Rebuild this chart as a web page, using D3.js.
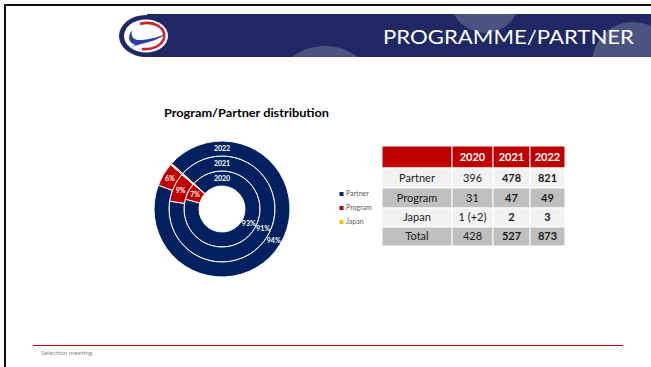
<!DOCTYPE html>
<html>
<head>
<meta charset="utf-8">
<script src="https://cdn.jsdelivr.net/npm/d3@7"></script>
<style>
  body { margin: 0; background: #fff; }
  svg { display: block; }
</style>
</head>
<body>
<svg id="slide" width="651" height="367"></svg>
<script>
// ---- data ----
const years = ["2020", "2021", "2022"];
const categories = ["Partner", "Program", "Japan"];
const partner = [396, 478, 821];
const program = [31, 47, 49];
const japan = [1, 2, 3];
const japanText = ["1 (+2)", "2", "3"];
const totals = [428, 527, 873];
const colors = ["#002060", "#c00000", "#ffc000"];

const svg = d3.select("#slide");
const font = "Lato, 'Open Sans', sans-serif";

// ---- slide frame ----
svg.append("rect").attr("x", 4).attr("y", 4).attr("width", 647).attr("height", 2).attr("fill", "#111");
svg.append("rect").attr("x", 4).attr("y", 4).attr("width", 2).attr("height", 363).attr("fill", "#111");

// ---- header band ----
const band = { x: 147, y: 14, w: 504, h: 43 };
svg.append("clipPath").attr("id", "bandClip")
  .append("rect").attr("x", band.x).attr("y", band.y).attr("width", band.w).attr("height", band.h);
svg.append("rect").attr("x", band.x).attr("y", band.y).attr("width", band.w).attr("height", band.h)
  .attr("fill", "#1f2862");
const deco = svg.append("g").attr("clip-path", "url(#bandClip)");
[[485, -2, 35], [325, 100, 54], [633, 63, 41]].forEach(([cx, cy, r]) => {
  deco.append("circle").attr("cx", cx).attr("cy", cy).attr("r", r)
    .attr("fill", "#ffffff").attr("fill-opacity", 0.2);
});
svg.append("text").attr("x", 634).attr("y", 44).attr("text-anchor", "end")
  .attr("font-family", font).attr("font-weight", 400).attr("font-size", 20).attr("fill", "#fff")
  .attr("textLength", 251).attr("lengthAdjust", "spacingAndGlyphs")
  .text("PROGRAMME/PARTNER");

// logo
const logo = svg.append("g").attr("transform", "translate(146,36)");
logo.append("ellipse").attr("rx", 27).attr("ry", 21).attr("fill", "#1f2862");
logo.append("ellipse").attr("rx", 22).attr("ry", 16.5).attr("fill", "#fff");
logo.append("path").attr("d", "M-6,-12 C8,-16 20,-8 18,2 C16,10 6,14 -4,13")
  .attr("fill", "none").attr("stroke", "#d0202a").attr("stroke-width", 2.6);
logo.append("path").attr("d", "M-14,-6 C-20,2 -16,8 -10,9 L-17,12 L-5,8 C4,6 14,3 19,-2 C10,2 0,4 -8,4 C-14,3 -15,-1 -14,-6 Z")
  .attr("fill", "#2b3fa8");

// ---- chart title ----
svg.append("text").attr("x", 164).attr("y", 117)
  .attr("font-family", font).attr("font-weight", 700).attr("font-size", 12)
  .attr("fill", "#000").attr("textLength", 165).attr("lengthAdjust", "spacingAndGlyphs")
  .text("Program/Partner distribution");

// ---- doughnut ----
const cx = 222, cy = 209;
const rHole = 23, ringW = 15;
const ringScale = d3.scaleLinear().domain([0, 1]).range([rHole, rHole + ringW]);
const rotation = -48 * Math.PI / 180;
const pie = d3.pie().sort(null).startAngle(rotation).endAngle(rotation + 2 * Math.PI);
const pct = d3.format(".0%");
const donut = svg.append("g").attr("transform", `translate(${cx},${cy})`);

years.forEach((yr, i) => {
  const vals = [partner[i], program[i], japan[i]];
  const r0 = ringScale(i), r1 = ringScale(i + 1);
  const arc = d3.arc().innerRadius(r0).outerRadius(r1);
  const slices = pie(vals);
  donut.selectAll(null).data(slices).enter().append("path")
    .attr("d", arc).attr("fill", (d, k) => colors[k])
    .attr("stroke", "#fff").attr("stroke-width", 1);
  slices.slice(0, 2).forEach(s => {
    const [lx, ly] = arc.centroid(s);
    donut.append("text").attr("x", lx).attr("y", ly).attr("dy", "0.35em")
      .attr("text-anchor", "middle").attr("font-family", font).attr("font-weight", 700)
      .attr("font-size", 7).attr("fill", "#fff")
      .text(pct(s.value / totals[i]));
  });
  donut.append("text").attr("x", 0).attr("y", -(r0 + r1) / 2).attr("dy", "0.35em")
    .attr("text-anchor", "middle").attr("font-family", font).attr("font-weight", 700)
    .attr("font-size", 7).attr("fill", "#fff").text(yr);
});

// ---- legend ----
const legY = d3.scalePoint().domain(categories).range([194, 222]);
const legend = svg.append("g");
categories.forEach((c, k) => {
  legend.append("rect").attr("x", 339.5).attr("y", legY(c) - 2).attr("width", 4).attr("height", 4)
    .attr("fill", colors[k]);
  legend.append("text").attr("x", 346).attr("y", legY(c)).attr("dy", "0.35em")
    .attr("font-family", font).attr("font-size", 7).attr("fill", "#595959").text(c);
});

// ---- table ----
const colEdges = [382, 452, 493, 530, 565];
const rowEdges = [146, 168, 188, 208, 227, 246];
const tableRows = [
  { label: "", cells: years, fill: "#c00000", color: "#fff", head: true },
  { label: "Partner", cells: partner.map(String), fill: "#f2f2f2" },
  { label: "Program", cells: program.map(String), fill: "#bfbfbf" },
  { label: "Japan", cells: japanText, fill: "#f2f2f2" },
  { label: "Total", cells: totals.map(String), fill: "#bfbfbf" }
];
const table = svg.append("g");
tableRows.forEach((row, r) => {
  const y0 = rowEdges[r], y1 = rowEdges[r + 1];
  const texts = [row.label].concat(row.cells);
  texts.forEach((t, c) => {
    const x0 = colEdges[c], x1 = colEdges[c + 1];
    table.append("rect").attr("x", x0).attr("y", y0).attr("width", x1 - x0).attr("height", y1 - y0)
      .attr("fill", row.fill).attr("stroke", "#fff").attr("stroke-width", 1);
    table.append("text").attr("x", (x0 + x1) / 2).attr("y", (y0 + y1) / 2).attr("dy", "0.36em")
      .attr("text-anchor", "middle").attr("font-family", font).attr("font-size", 11)
      .attr("font-weight", (row.head || c >= 2) ? 700 : 400)
      .attr("fill", row.color || "#1a1a1a").text(t);
  });
});

// ---- footer ----
svg.append("line").attr("x1", 33).attr("x2", 623).attr("y1", 345.5).attr("y2", 345.5)
  .attr("stroke", "#c00000").attr("stroke-width", 1.2);
svg.append("text").attr("x", 41).attr("y", 355).attr("font-family", font).attr("font-size", 6.5)
  .attr("fill", "#8c8c8c").text("Selection meeting");
</script>
</body>
</html>
